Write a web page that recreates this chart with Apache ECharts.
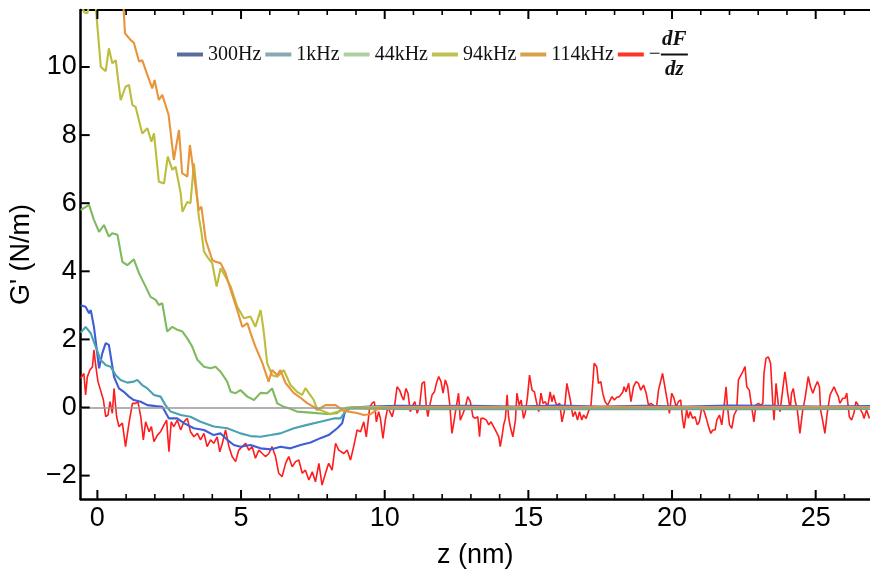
<!DOCTYPE html>
<html>
<head>
<meta charset="utf-8">
<script src="https://cdn.jsdelivr.net/npm/echarts@6/dist/echarts.min.js"></script>
<style>html,body{margin:0;padding:0;background:#fff}#c{width:870px;height:576px}</style>
</head>
<body>
<div id="c"></div>
<script>
// ---- data (z in nm, G' in N/m) ----
const seriesNames = ['300Hz', '1kHz', '44kHz', '94kHz', '114kHz', '\u2212dF/dz'];
const xMajorTicks = [0, 5, 10, 15, 20, 25];
const xMinorTicks = [1,2,3,4,6,7,8,9,11,12,13,14,16,17,18,19,21,22,23,24,26];
const yMajorTicks = [-2, 0, 2, 4, 6, 8, 10];

const g300Hz = [[-0.58,3.0],[-0.52,3.01],[-0.41,2.96],[-0.29,2.77],[-0.23,2.86],[-0.12,2.37],[0.06,1.15],[0.17,1.59],[0.29,1.89],[0.4,1.84],[0.58,0.9],[0.75,0.56],[0.92,0.46],[1.1,0.32],[1.27,0.22],[1.51,0.17],[1.74,0.07],[2.03,0.04],[2.26,0.02],[2.49,-0.32],[2.78,-0.32],[3.01,-0.46],[3.36,-0.61],[3.71,-0.66],[4.05,-0.81],[4.29,-0.76],[4.52,-0.95],[4.75,-1.1],[4.98,-1.15],[5.33,-1.1],[5.68,-1.2],[6.03,-1.23],[6.37,-1.15],[6.72,-1.2],[7.07,-1.1],[7.42,-1.03],[7.76,-0.9],[8.05,-0.81],[8.35,-0.61],[8.52,-0.46],[8.63,-0.07],[8.81,0.0],[9.5,0.03],[10.5,0.05],[11.5,0.04],[13,0.05],[14.5,0.03],[16,0.06],[17.5,0.03],[19,0.05],[20.5,0.03],[22,0.06],[23.5,0.05],[25,0.03],[26.9,0.04]];

const g1kHz = [[-0.58,2.2],[-0.52,2.23],[-0.41,2.37],[-0.23,2.18],[-0.06,1.79],[0.11,1.4],[0.29,1.25],[0.46,1.2],[0.64,0.95],[0.81,0.81],[1.04,0.73],[1.27,0.76],[1.39,0.81],[1.56,0.66],[1.74,0.56],[1.97,0.37],[2.2,0.32],[2.37,0.07],[2.55,-0.12],[2.9,-0.22],[3.24,-0.27],[3.59,-0.42],[4.05,-0.56],[4.52,-0.61],[4.98,-0.76],[5.33,-0.84],[5.68,-0.86],[6.03,-0.81],[6.37,-0.76],[6.84,-0.61],[7.3,-0.51],[7.76,-0.42],[8.23,-0.32],[8.46,-0.32],[8.63,-0.12],[8.81,-0.02],[10,-0.04],[12,-0.05],[14,-0.04],[16,-0.05],[18,-0.04],[20,-0.05],[22,-0.04],[24,-0.05],[26.9,-0.04]];

const g44kHz = [[-0.58,5.8],[-0.52,5.75],[-0.29,5.95],[-0.12,5.51],[0.06,5.16],[0.23,5.36],[0.4,5.02],[0.52,5.12],[0.7,5.07],[0.87,4.28],[1.04,4.18],[1.27,4.35],[1.45,3.94],[1.68,3.55],[1.85,3.25],[2.03,3.16],[2.14,3.01],[2.26,3.06],[2.43,2.23],[2.61,2.37],[2.78,2.28],[2.96,2.23],[3.13,2.03],[3.3,1.79],[3.48,1.4],[3.71,1.2],[3.94,1.15],[4.11,1.2],[4.29,1.05],[4.52,0.76],[4.64,0.46],[4.81,0.42],[4.98,0.51],[5.22,0.32],[5.45,0.22],[5.68,0.43],[5.91,0.42],[6.08,0.56],[6.26,0.12],[6.49,0.02],[6.72,-0.04],[6.95,-0.12],[7.42,-0.15],[8.0,-0.19],[8.34,-0.17],[8.46,-0.07],[8.8,-0.03],[12,-0.03],[16,-0.02],[20,-0.03],[24,-0.02],[26.9,-0.03]];

const g94kHz = [[-0.58,11.85],[-0.45,11.6],[-0.35,11.58],[-0.25,11.9],[-0.1,12.2],[0.0,11.2],[0.12,10.0],[0.29,9.88],[0.4,10.55],[0.52,10.11],[0.64,10.2],[0.81,9.03],[0.98,9.42],[1.1,9.47],[1.22,8.88],[1.33,8.83],[1.56,8.05],[1.74,8.2],[1.88,7.81],[1.97,8.05],[2.14,6.63],[2.32,6.58],[2.45,7.37],[2.61,6.98],[2.72,7.07],[2.9,6.29],[2.96,5.75],[3.13,6.04],[3.24,6.0],[3.36,7.17],[3.45,6.4],[3.53,5.6],[3.62,5.15],[3.71,4.58],[3.82,4.43],[4.0,4.23],[4.15,3.55],[4.29,4.09],[4.46,3.84],[4.64,3.55],[4.87,2.96],[5.1,2.62],[5.33,2.67],[5.5,2.37],[5.68,2.86],[5.77,2.37],[5.91,1.3],[6.08,0.95],[6.26,0.9],[6.49,1.1],[6.72,0.66],[6.95,0.46],[7.13,0.37],[7.24,0.57],[7.3,0.56],[7.53,0.22],[7.65,-0.05],[7.76,-0.07],[8.11,-0.2],[8.2,-0.16],[8.46,-0.1],[8.69,0.0],[9.5,0.01],[12,0.0],[16,0.01],[20,0.0],[24,0.01],[26.9,0.0]];

const g114kHz = [[0.86,12.5],[0.96,10.99],[1.16,10.79],[1.27,10.71],[1.45,10.16],[1.56,10.2],[1.74,9.77],[1.91,9.37],[1.99,9.62],[2.14,9.03],[2.26,9.18],[2.48,8.59],[2.66,7.27],[2.84,8.15],[2.95,6.88],[3.13,6.78],[3.22,7.71],[3.48,6.09],[3.53,5.8],[3.62,5.9],[3.77,4.92],[4.0,4.33],[4.11,4.28],[4.29,4.24],[4.46,3.95],[4.64,3.45],[4.87,2.86],[5.04,2.37],[5.22,2.48],[5.33,2.19],[5.5,1.79],[5.74,1.31],[5.96,0.76],[6.08,1.1],[6.26,0.95],[6.37,1.1],[6.55,0.72],[6.83,0.43],[7.05,0.3],[7.3,0.13],[7.53,0.02],[7.65,-0.07],[7.94,0.07],[8.29,0.07],[8.57,-0.1],[9.04,-0.16],[9.27,-0.22],[9.5,-0.2],[9.74,-0.05],[10.2,0.01],[12,0.02],[15,0.01],[18,0.02],[21,0.01],[24,0.02],[26.9,0.01]];

const dFdz = [[-0.58,0.86],[-0.47,1.0],[-0.41,0.37],[-0.35,0.9],[-0.26,1.1],[-0.17,1.2],[-0.12,1.69],[-0.06,1.25],[0.02,0.76],[0.11,0.51],[0.21,0.22],[0.29,-0.27],[0.37,-0.22],[0.44,0.17],[0.52,-0.17],[0.58,0.56],[0.67,-0.27],[0.75,-0.56],[0.87,-0.46],[0.98,-1.15],[1.1,-0.46],[1.22,0.12],[1.33,0.12],[1.41,0.17],[1.51,-0.27],[1.6,-0.95],[1.68,-0.42],[1.8,-0.71],[1.88,-0.56],[1.97,-1.0],[2.09,-0.81],[2.2,-0.71],[2.32,-0.51],[2.41,-0.37],[2.49,-1.3],[2.57,-0.42],[2.66,-0.56],[2.78,-0.37],[2.9,-0.66],[3.01,-0.42],[3.13,-0.32],[3.24,-0.71],[3.36,-0.86],[3.48,-0.76],[3.59,-0.95],[3.71,-0.76],[3.82,-1.15],[3.94,-0.95],[4.05,-1.05],[4.17,-0.86],[4.26,-1.3],[4.35,-1.05],[4.46,-0.66],[4.58,-1.15],[4.69,-1.44],[4.81,-1.59],[4.92,-1.25],[5.04,-1.15],[5.16,-1.05],[5.27,-1.25],[5.39,-1.15],[5.5,-1.49],[5.62,-1.25],[5.74,-1.35],[5.85,-1.44],[5.97,-1.35],[6.08,-1.15],[6.2,-1.44],[6.31,-1.93],[6.43,-2.03],[6.55,-1.64],[6.66,-1.44],[6.78,-1.74],[6.9,-1.59],[7.01,-1.54],[7.13,-1.93],[7.24,-1.84],[7.36,-2.13],[7.48,-1.89],[7.59,-2.18],[7.71,-1.64],[7.82,-2.28],[7.94,-1.93],[8.05,-1.64],[8.17,-1.84],[8.29,-1.05],[8.4,-1.25],[8.58,-1.35],[8.69,-1.25],[8.81,-1.54],[8.92,-1.15],[9.04,-0.66],[9.16,-0.71],[9.27,-0.42],[9.36,-0.86],[9.48,0.02],[9.56,0.12],[9.64,0.17],[9.71,-0.42],[9.79,-0.12],[9.85,-0.32],[9.94,-0.91],[10.02,-0.37],[10.11,0.02],[10.18,-0.12],[10.26,-0.27],[10.34,0.02],[10.43,0.61],[10.52,0.51],[10.6,0.32],[10.66,0.22],[10.74,0.56],[10.81,0.42],[10.89,-0.12],[10.98,0.07],[11.05,0.17],[11.13,-0.17],[11.21,0.02],[11.3,0.71],[11.38,0.76],[11.45,0.02],[11.5,-0.27],[11.57,0.07],[11.65,0.37],[11.73,0.46],[11.8,0.71],[11.88,0.91],[11.96,0.76],[12.03,0.42],[12.11,0.81],[12.19,0.61],[12.26,0.12],[12.34,-0.76],[12.4,-0.47],[12.49,0.02],[12.57,0.42],[12.63,-0.37],[12.73,-0.17],[12.81,0.02],[12.89,0.32],[12.98,0.17],[13.07,-0.27],[13.15,-0.32],[13.24,-0.27],[13.3,-0.86],[13.35,-0.32],[13.44,-0.32],[13.54,-0.37],[13.62,-0.51],[13.7,-0.42],[13.79,-0.56],[13.88,-0.71],[13.97,-0.86],[14.02,-1.15],[14.08,-0.86],[14.14,-0.51],[14.2,-0.32],[14.26,0.37],[14.31,-0.27],[14.37,-0.56],[14.46,-0.86],[14.55,-0.37],[14.6,0.42],[14.68,0.07],[14.75,0.22],[14.83,-0.32],[14.89,-0.17],[14.97,0.32],[15.04,0.95],[15.13,0.51],[15.21,0.46],[15.28,0.17],[15.36,-0.12],[15.44,0.42],[15.51,0.12],[15.59,0.17],[15.67,0.02],[15.76,0.46],[15.82,0.17],[15.88,0.37],[15.94,0.17],[15.99,0.07],[16.09,0.12],[16.17,-0.42],[16.25,-0.12],[16.34,0.71],[16.4,0.76],[16.46,0.22],[16.55,-0.27],[16.63,-0.12],[16.71,-0.37],[16.78,-0.12],[16.86,-0.37],[16.92,-0.22],[17.01,-0.32],[17.09,-0.12],[17.18,0.07],[17.25,0.81],[17.29,1.3],[17.38,1.2],[17.44,0.71],[17.52,0.76],[17.59,0.42],[17.67,0.17],[17.76,0.07],[17.82,0.12],[17.91,0.32],[17.99,0.22],[18.08,0.3],[18.17,0.32],[18.2,0.32],[18.29,0.46],[18.33,0.61],[18.4,0.46],[18.49,0.71],[18.57,0.17],[18.66,0.61],[18.75,0.76],[18.83,0.71],[18.91,0.51],[19.01,0.66],[19.1,0.42],[19.18,0.07],[19.26,0.12],[19.35,0.07],[19.45,-0.07],[19.53,0.51],[19.59,0.56],[19.67,1.0],[19.73,0.71],[19.82,0.27],[19.91,-0.17],[19.99,0.42],[20.07,0.27],[20.14,0.02],[20.22,0.17],[20.3,0.22],[20.37,-0.37],[20.42,-0.61],[20.51,-0.07],[20.57,-0.32],[20.63,-0.12],[20.72,-0.32],[20.8,-0.27],[20.88,-0.51],[20.95,-0.42],[21.04,0.02],[21.12,-0.12],[21.21,-0.37],[21.27,-0.56],[21.35,-0.76],[21.42,-0.66],[21.5,-0.66],[21.56,-0.37],[21.65,-0.22],[21.73,-0.51],[21.81,0.02],[21.88,0.61],[21.93,0.02],[22.0,-0.51],[22.08,-0.61],[22.16,-0.22],[22.25,-0.07],[22.31,0.81],[22.37,0.76],[22.46,1.05],[22.54,1.2],[22.6,0.61],[22.69,0.51],[22.77,0.02],[22.85,-0.42],[22.92,0.07],[23.0,0.12],[23.09,0.07],[23.16,0.12],[23.2,1.0],[23.27,1.44],[23.35,1.49],[23.43,1.3],[23.5,0.22],[23.55,-0.37],[23.62,0.71],[23.7,0.07],[23.76,-0.12],[23.85,0.51],[23.93,1.05],[24.01,0.51],[24.11,-0.07],[24.16,0.42],[24.22,0.56],[24.28,0.22],[24.36,-0.07],[24.45,-0.76],[24.55,-0.07],[24.63,0.27],[24.69,0.61],[24.74,0.91],[24.82,0.61],[24.9,0.42],[24.98,0.61],[25.06,0.76],[25.13,0.61],[25.17,-0.07],[25.24,-0.37],[25.32,-0.76],[25.4,-0.17],[25.5,0.37],[25.56,0.42],[25.64,0.61],[25.71,0.46],[25.79,0.32],[25.84,0.12],[25.94,0.27],[26.02,0.27],[26.08,0.42],[26.17,-0.27],[26.25,-0.37],[26.33,-0.17],[26.4,0.17],[26.48,0.07],[26.56,-0.07],[26.63,-0.17],[26.68,-0.32],[26.77,-0.07],[26.87,-0.32]];

// ---- styling ----
const lineColors = ['#3d5ed6', '#4aa2b0', '#7dba60', '#bcbd3c', '#e8943a', '#ff1c1c'];
const legendColors = ['#5d6c9f', '#8aa8b2', '#add0a0', '#c0c052', '#d9a04c', '#ff3326'];
const seriesData = [g300Hz, g1kHz, g44kHz, g94kHz, g114kHz, dFdz];

const GL = 80, GR = 0, GT = 10, GB = 77;
const XMIN = -0.581, XMAX = 26.89, YMIN = -2.687, YMAX = 11.674;
const sans = 'Liberation Sans, Arial, sans-serif';
const serif = 'Liberation Serif, Times New Roman, serif';
const minus = v => (v < 0 ? '\u2212' + Math.abs(v) : String(v));

const chart = echarts.init(document.getElementById('c'), null, {renderer: 'canvas'});

const series = [];
const order = [5, 0, 1, 2, 3, 4];
order.forEach(i => {
  const s = {
    name: seriesNames[i], type: 'line', data: seriesData[i],
    showSymbol: false, symbol: 'none', clip: true, animation: false,
    lineStyle: {color: lineColors[i], width: i === 5 ? 1.6 : 2.1},
    itemStyle: {color: lineColors[i]}
  };
  if (i === 4) {
    s.markLine = {silent: true, symbol: ['none', 'none'], animation: false,
      label: {show: false}, lineStyle: {color: '#999', width: 1.5, type: 'solid'},
      data: [{yAxis: 0}]};
  }
  series.push(s);
});

// Inward frame ticks drawn by custom series through the axis scales.
// Each tick series carries a name that the legend keeps selected, so the legend does not filter it out.
const tickNames = ['xTicksMajor', 'xTicksMinor', 'yTicksMajor'];
function xTickSeries(name, values, len, width) {
  return {
    name: name, type: 'custom', animation: false, z: 6,
    data: values.map(v => [v, 0]),
    renderItem: function (params, api) {
      const x = api.value(0);
      const b = api.coord([x, YMIN]);
      const t = api.coord([x, YMAX]);
      const st = {stroke: '#000', lineWidth: width};
      return {type: 'group', children: [
        {type: 'line', shape: {x1: b[0], y1: b[1], x2: b[0], y2: b[1] - len}, style: st},
        {type: 'line', shape: {x1: t[0], y1: t[1], x2: t[0], y2: t[1] + len}, style: st}
      ]};
    }
  };
}
series.push(xTickSeries(tickNames[0], xMajorTicks, 9, 2));
series.push(xTickSeries(tickNames[1], xMinorTicks, 5, 1.6));
series.push({
  name: tickNames[2], type: 'custom', animation: false, z: 6,
  data: yMajorTicks.map(v => [0, v]),
  renderItem: function (params, api) {
    const p = api.coord([XMIN, api.value(1)]);
    return {type: 'line', shape: {x1: p[0], y1: p[1], x2: p[0] + 9, y2: p[1]}, style: {stroke: '#000', lineWidth: 2}};
  }
});

const selected = {};
seriesNames.concat(tickNames).forEach(n => { selected[n] = true; });

const hidden = {show: false};
chart.setOption({
  animation: false,
  backgroundColor: '#fff',
  grid: {left: GL, right: GR, top: GT, bottom: GB, containLabel: false},
  legend: {
    left: 177, top: 29, padding: 0, orient: 'horizontal',
    icon: 'rect', itemWidth: 26, itemHeight: 4, itemGap: 4,
    selectedMode: false, selected: selected,
    data: seriesNames.map((n, i) => ({name: n, itemStyle: {color: legendColors[i]}})),
    formatter: function (name) {
      if (name === seriesNames[5]) return '{sp| }{num|dF}\n{mi|\u2212}{bar| }\n{sp| }{den|dz}';
      return name;
    },
    textStyle: {
      fontFamily: serif, fontSize: 20, color: '#111',
      rich: {
        sp: {width: 12, lineHeight: 24},
        num: {fontFamily: serif, fontSize: 21, fontStyle: 'italic', fontWeight: 'bold', width: 27, align: 'center', lineHeight: 24, color: '#111'},
        den: {fontFamily: serif, fontSize: 21, fontStyle: 'italic', fontWeight: 'bold', width: 27, align: 'center', lineHeight: 24, color: '#111'},
        mi: {fontFamily: serif, fontSize: 21, width: 12, lineHeight: 6, color: '#111'},
        bar: {width: 27, height: 2, lineHeight: 6, backgroundColor: '#111'}
      }
    }
  },
  xAxis: [
    {
      type: 'value', position: 'bottom', min: XMIN, max: XMAX,
      splitLine: hidden, axisTick: hidden,
      name: 'z (nm)', nameLocation: 'middle', nameGap: 43,
      nameTextStyle: {fontFamily: sans, fontSize: 27, color: '#000'},
      axisLine: {show: true, onZero: false, lineStyle: {color: '#000', width: 2.5}},
      axisLabel: {show: true, customValues: xMajorTicks, fontFamily: sans, fontSize: 27, color: '#000', margin: 6}
    },
    {
      type: 'value', position: 'top', min: XMIN, max: XMAX,
      splitLine: hidden, axisTick: hidden, axisLabel: hidden,
      axisLine: {show: true, onZero: false, lineStyle: {color: '#000', width: 2}}
    }
  ],
  yAxis: [{
    type: 'value', min: YMIN, max: YMAX, position: 'left',
    splitLine: hidden, axisTick: hidden,
    name: "G' (N/m)", nameLocation: 'middle', nameGap: 44, nameRotate: 90,
    nameTextStyle: {fontFamily: sans, fontSize: 27, color: '#000'},
    axisLine: {show: true, onZero: false, lineStyle: {color: '#000', width: 2.5}},
    axisLabel: {show: true, customValues: yMajorTicks, formatter: minus, fontFamily: sans, fontSize: 27, color: '#000', margin: 4}
  }],
  series: series
});
</script>
</body>
</html>
